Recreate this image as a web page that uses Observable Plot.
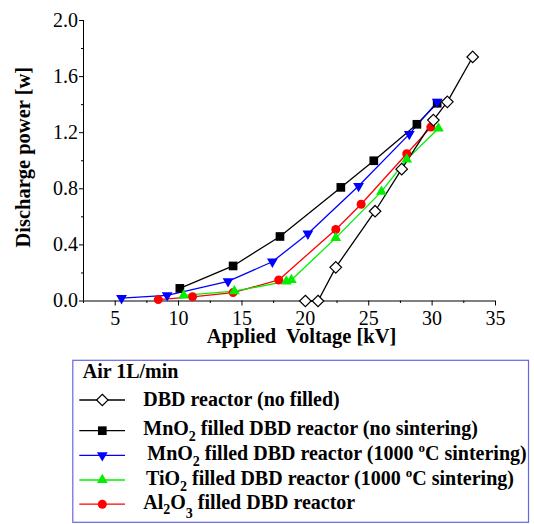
<!DOCTYPE html>
<html><head><meta charset="utf-8">
<script src="https://cdn.jsdelivr.net/npm/d3@7"></script>
<script src="https://cdn.jsdelivr.net/npm/@observablehq/plot@0.6"></script>
<style>
body{margin:0;background:#fff;}
#chart{position:relative;width:534px;height:524px;background:#fff;}
#chart svg{display:block}
</style></head><body><div id="chart"></div>
<script>
// ---- data ----
const xTicks = [5, 10, 15, 20, 25, 30, 35];
const xMinorTicks = [2.5, 7.5, 12.5, 17.5, 22.5, 27.5, 32.5];
const yTicks = [0, 0.4, 0.8, 1.2, 1.6, 2.0];
const yMinorTicks = [0.2, 0.6, 1.0, 1.4, 1.8];

const dbdVoltage = [20.0, 21.0, 22.4, 25.5, 27.6, 30.1, 31.2, 33.2];
const dbdPower   = [0.00, 0.00, 0.24, 0.64, 0.94, 1.29, 1.42, 1.74];

const mnoVoltage = [10.1, 14.3, 18.0, 22.8, 25.4, 28.8, 30.4];
const mnoPower   = [0.09, 0.25, 0.46, 0.81, 1.00, 1.26, 1.41];

const mnoSintVoltage = [5.5, 9.1, 13.9, 17.4, 20.2, 24.2, 28.2, 30.4];
const mnoSintPower   = [0.02, 0.04, 0.14, 0.28, 0.48, 0.82, 1.19, 1.42];

const tioVoltage = [10.4, 14.4, 18.5, 18.9, 22.4, 26.0, 28.0, 30.5];
const tioPower   = [0.04, 0.07, 0.14, 0.15, 0.45, 0.78, 1.01, 1.23];

const alVoltage = [8.4, 11.1, 14.3, 17.9, 22.4, 24.4, 28.0, 29.9];
const alPower   = [0.01, 0.03, 0.06, 0.15, 0.51, 0.69, 1.05, 1.24];

const xTitle = "Applied  Voltage [kV]";
const yTitle = "Discharge power [w]";
const legendTitle = "Air 1L/min";
const legendLabels = [
  [["DBD reactor (no filled)"]],
  [["MnO"], ["2", "sub"], [" filled DBD reactor (no sintering)"]],
  [["MnO"], ["2", "sub"], [" filled DBD reactor (1000 "], ["o", "sup"], ["C sintering)"]],
  [["TiO"], ["2", "sub"], [" filled DBD reactor (1000 "], ["o", "sup"], ["C sintering)"]],
  [["Al"], ["2", "sub"], ["O"], ["3", "sub2"], [" filled DBD reactor"]]
];

// ---- series styling ----
const toRows = (vs, ps) => vs.map((v, i) => ({v, p: ps[i]}));
const series = [
  {key: "mno",  rows: toRows(mnoVoltage, mnoPower), color: "#000000", symbol: "square", r: 4.9, fill: "#000000", rotate: 0},
  {key: "mnoS", rows: toRows(mnoSintVoltage, mnoSintPower), color: "#0000ff", symbol: "triangle", r: 4, fill: "#0000ff", rotate: 180},
  {key: "al",   rows: toRows(alVoltage, alPower), color: "#ff0000", symbol: "circle", r: 4.5, fill: "#ff0000", rotate: 0},
  {key: "tio",  rows: toRows(tioVoltage, tioPower), color: "#00f000", symbol: "triangle", r: 4, fill: "#00f000", rotate: 0},
  {key: "dbd",  rows: toRows(dbdVoltage, dbdPower), color: "#000000", symbol: "diamond2", r: 5.2, fill: "#ffffff", rotate: 0}
];

const H = 352;
const serif = "'Liberation Serif', 'Times New Roman', serif";

const marks = [
  Plot.ruleY([0], {stroke: "#000", strokeWidth: 1}),
  Plot.ruleX([2.5], {stroke: "#000", strokeWidth: 1}),
  Plot.axisX({ticks: xTicks, tickSize: 5, tickPadding: 4.5, tickFormat: d => String(d), label: null, fontSize: 20}),
  Plot.axisX({ticks: xMinorTicks, tickSize: 2.5, tickFormat: () => "", label: null}),
  Plot.axisY({ticks: yTicks, tickSize: 4, tickPadding: 1.5, tickFormat: d3.format(".1f"), label: null, fontSize: 20}),
  Plot.axisY({ticks: yMinorTicks, tickSize: 2, tickFormat: () => "", label: null})
];
for (const s of series) {
  marks.push(Plot.line(s.rows, {x: "v", y: "p", stroke: s.color, strokeWidth: 1.3}));
}
for (const s of series) {
  marks.push(Plot.dot(s.rows, {x: "v", y: "p", symbol: s.symbol, r: s.r, fill: s.fill,
    stroke: s.key === "dbd" ? "#000" : "none", strokeWidth: 1.2, rotate: s.rotate}));
}
marks.push(Plot.text([xTitle], {frameAnchor: "bottom", lineAnchor: "top", textAnchor: "middle", dy: 27, dx: 12,
  fontWeight: "bold", fontSize: 20.5, fill: "#000"}));
marks.push(Plot.text([yTitle], {frameAnchor: "left", rotate: -90, lineAnchor: "middle", textAnchor: "middle", dx: -60, dy: -3.5,
  fontWeight: "bold", fontSize: 20.5, fill: "#000"}));

const plot = Plot.plot({
  width: 534, height: H,
  marginLeft: 83, marginRight: 39, marginTop: 20, marginBottom: H - 300.5,
  style: {fontSize: "20px", color: "#000", background: "#fff", overflow: "visible"},
  x: {domain: [2.5, 35]},
  y: {domain: [0, 2]},
  marks
});
// serif face on every text of the chart
d3.select(plot).style("font-family", serif);
d3.select(plot).selectAll("text, g").style("font-family", serif);
document.getElementById("chart").appendChild(plot);

// ---- legend (below the plot SVG) ----
const LH = 524 - H;
const off = H; // page y offset
const leg = d3.select("#chart").append("svg")
  .attr("width", 534).attr("height", LH)
  .style("font-family", serif);
leg.append("rect")
  .attr("x", 72.8).attr("y", 360.3 - off).attr("width", 455.7).attr("height", 162)
  .attr("fill", "#fff").attr("stroke", "#6666e6").attr("stroke-width", 1.2);
leg.append("text").attr("x", 82.7).attr("y", 378.3 - off)
  .attr("font-weight", "bold").attr("font-size", 20).text(legendTitle);

const legendOrder = ["dbd", "mno", "mnoS", "tio", "al"];
const rowLineY = [400, 430.7, 455.3, 480, 504.2];
const rowBase = [405.8, 435.2, 460, 485, 508.8];
const rowTextX = [143.3, 143.3, 147.3, 146, 143.3];
const symMap = {square: d3.symbolSquare, triangle: d3.symbolTriangle, circle: d3.symbolCircle, diamond2: d3.symbolDiamond2};

legendOrder.forEach((key, i) => {
  const s = series.find(d => d.key === key);
  const y = rowLineY[i] - off;
  leg.append("line").attr("x1", 79.3).attr("x2", 125).attr("y1", y).attr("y2", y)
    .attr("stroke", s.color).attr("stroke-width", 1.3);
  leg.append("path")
    .attr("d", d3.symbol(symMap[s.symbol], Math.PI * s.r * s.r)())
    .attr("transform", `translate(102.3,${y}) rotate(${s.rotate})`)
    .attr("fill", s.fill).attr("stroke", key === "dbd" ? "#000" : "none").attr("stroke-width", 1.2);
  const t = leg.append("text").attr("x", rowTextX[i]).attr("y", rowBase[i] - off)
    .attr("font-weight", "bold").attr("font-size", 20).attr("fill", "#000");
  let shift = 0;
  for (const [str, kind] of legendLabels[i]) {
    let target = 0, fs = 20;
    if (kind === "sub") { target = 5.5; fs = 14; }
    else if (kind === "sub2") { target = 9; fs = 14; }
    else if (kind === "sup") { target = -8; fs = 13; }
    t.append("tspan").attr("dy", target - shift).attr("font-size", fs).text(str);
    shift = target;
  }
});
</script></body></html>
